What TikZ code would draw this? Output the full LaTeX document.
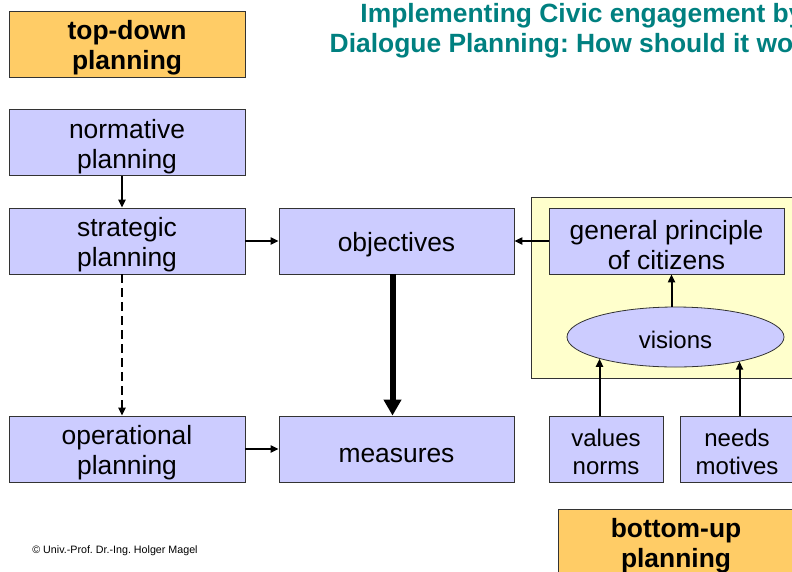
\documentclass[tikz,border=0pt]{standalone}
\usepackage{fontspec}
\setmainfont{Liberation Sans}
\frenchspacing
\usepackage{tikz}
\usetikzlibrary{arrows.meta,shapes.geometric}
\definecolor{lav}{HTML}{CCCCFF}
\definecolor{gold}{HTML}{FFCC66}
\definecolor{pale}{HTML}{FFFFCC}
\definecolor{teal}{HTML}{008080}
\newcommand{\tstrut}{\rule{0pt}{26.5pt}}
\newcommand{\sstrut}{\rule{0pt}{22.5pt}}

\begin{document}
\begin{tikzpicture}[x=1pt, y=-1pt, >={Triangle[length=8pt,width=7pt]},
    planbox/.style={draw=black!80, line width=0.8pt, fill=lav, inner sep=0pt,
      minimum width=236pt, minimum height=66pt, align=center,
      font=\fontsize{26.4}{30}\selectfont},
    smallbox/.style={planbox, minimum width=114pt, font=\fontsize{24}{28}\selectfont},
    headbox/.style={planbox, fill=gold, font=\bfseries\fontsize{26.4}{30}\selectfont},
    arr/.style={->, line width=2pt}]
    \useasboundingbox (0, 0) rectangle (792, 571);
    \clip (0, 0) rectangle (792, 571);
    % citizens panel
    \filldraw[fill=pale, draw=black!80, line width=0.8pt] (531, 197) rectangle (800, 378);
    \node[font=\bfseries\fontsize{26.4}{30}\selectfont, text=teal, align=center, inner sep=0pt] (title) at (582, 31)
      {Implementing Civic engagement by\\Dialogue Planning: How should it work?};
    \node[headbox] (topdown) at (127, 44) {\tstrut top-down\\planning};
    \node[planbox] (normative) at (127, 142.5) {\tstrut normative\\planning};
    \node[planbox] (strategic) at (127, 241) {\tstrut strategic\\planning};
    \node[planbox] (operational) at (127, 449) {\tstrut operational\\planning};
    \node[planbox, minimum width=235pt] (objectives) at (396.5, 241) {\tstrut objectives};
    \node[planbox, minimum width=235pt] (measures) at (396.5, 449) {\tstrut measures};
    \node[planbox, minimum width=235pt] (general) at (666.5, 241) {\tstrut general principle\\of citizens};
    \node[planbox, ellipse, minimum width=217pt, minimum height=60pt, font=\fontsize{24}{28}\selectfont] (visions) at (675.5, 337) {\sstrut visions};
    \node[smallbox] (values) at (606, 449) {\sstrut values\\norms};
    \node[smallbox] (needs) at (737, 449) {\sstrut needs\\motives};
    \node[headbox] (bottomup) at (676, 542) {\tstrut bottom-up\\planning};
    \node[font=\fontsize{10.7}{13}\selectfont, inner sep=0pt] (copy) at (115, 551) {\textcopyright{} Univ.-Prof. Dr.-Ing. Holger Magel};
    % connectors
    \draw[arr] ([xshift=-5pt]normative.south) -- ([xshift=-5pt]strategic.north);
    \draw[arr, dash pattern=on 9pt off 5pt] ([xshift=-5pt]strategic.south) -- ([xshift=-5pt]operational.north);
    \draw[arr] (strategic.east) -- (objectives.west);
    \draw[arr] (operational.east) -- (measures.west);
    \draw[arr] (general.west) -- (objectives.east);
    \draw[-{Triangle[length=16pt,width=17pt]}, line width=6pt] ([xshift=-4pt]objectives.south) -- ([xshift=-4pt]measures.north);
    \draw[arr] ([xshift=-4pt]visions.north) -- ([xshift=-4pt]visions.north |- general.south);
    \draw[arr] (visions.196 |- values.north) -- (visions.196);
    \draw[arr] (visions.339 |- needs.north) -- (visions.339);
\end{tikzpicture}
\end{document}
